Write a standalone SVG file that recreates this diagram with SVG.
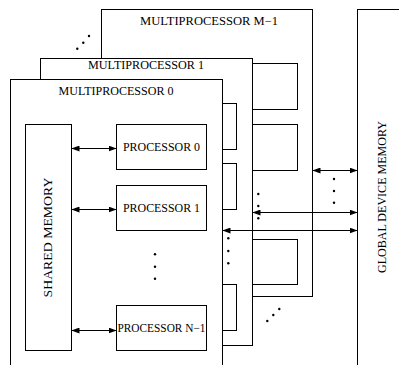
<svg xmlns="http://www.w3.org/2000/svg" width="399" height="365" viewBox="0 0 399 365">
<style>
.b{fill:#fff;stroke:#000;stroke-width:1}
.l{fill:none;stroke:#000;stroke-width:1}
.t{font-family:"Liberation Serif","Times New Roman",serif;font-size:12px;fill:#000}
.d{fill:#000}
</style>
<defs>
<marker id="ah" viewBox="0 0 8 6" refX="8" refY="3" markerWidth="8" markerHeight="6" markerUnits="userSpaceOnUse" orient="auto-start-reverse">
<path d="M0,0 L8,3 L0,6 z" fill="#000"/>
</marker>
</defs>
<g id="global-memory">
<rect class="b" x="357.5" y="9.5" width="60" height="400"/>
<text class="t" text-anchor="middle" transform="translate(386,197) rotate(-90)" textLength="152" lengthAdjust="spacingAndGlyphs">GLOBAL DEVICE MEMORY</text>
</g>
<g id="mp-m1">
<rect class="b" x="101.5" y="9.5" width="211" height="287"/>
<text class="t" x="209" y="25" text-anchor="middle" textLength="138" lengthAdjust="spacingAndGlyphs">MULTIPROCESSOR M−1</text>
<rect class="b" x="210.5" y="63.5" width="87" height="46"/>
<rect class="b" x="210.5" y="124.5" width="87" height="46"/>
<rect class="b" x="210.5" y="239.5" width="87" height="45"/>
</g>
<g id="mp-1">
<rect class="b" x="40.5" y="58.5" width="212" height="287"/>
<text class="t" x="146" y="69" text-anchor="middle" textLength="116" lengthAdjust="spacingAndGlyphs">MULTIPROCESSOR 1</text>
<rect class="b" x="146.5" y="103.5" width="90" height="46"/>
<rect class="b" x="146.5" y="163.5" width="90" height="46"/>
<rect class="b" x="146.5" y="284.5" width="90" height="46"/>
</g>
<g id="mp-0">
<rect class="b" x="10.5" y="79.5" width="212" height="300"/>
<text class="t" x="116" y="94.5" text-anchor="middle" textLength="115" lengthAdjust="spacingAndGlyphs">MULTIPROCESSOR 0</text>
</g>
<g id="shared-memory">
<rect class="b" x="25.5" y="124.5" width="46" height="226"/>
<text class="t" text-anchor="middle" transform="translate(52,237.5) rotate(-90)" style="font-size:13.5px" textLength="120" lengthAdjust="spacingAndGlyphs">SHARED MEMORY</text>
</g>
<g id="processor-0">
<rect class="b" x="116.5" y="124.5" width="90" height="45"/>
<text class="t" x="161.5" y="151" text-anchor="middle" textLength="77" lengthAdjust="spacingAndGlyphs">PROCESSOR 0</text>
</g>
<g id="processor-1">
<rect class="b" x="116.5" y="185.5" width="90" height="45"/>
<text class="t" x="161.5" y="212" text-anchor="middle" textLength="77" lengthAdjust="spacingAndGlyphs">PROCESSOR 1</text>
</g>
<g id="processor-n1">
<rect class="b" x="116.5" y="305.5" width="90" height="45"/>
<text class="t" x="161.5" y="332" text-anchor="middle" textLength="88" lengthAdjust="spacingAndGlyphs">PROCESSOR N−1</text>
</g>
<g id="connectors">
<line class="l" x1="71.5" y1="148.5" x2="116.5" y2="148.5" marker-start="url(#ah)" marker-end="url(#ah)"/>
<line class="l" x1="71.5" y1="209.5" x2="116.5" y2="209.5" marker-start="url(#ah)" marker-end="url(#ah)"/>
<line class="l" x1="71.5" y1="330.5" x2="116.5" y2="330.5" marker-start="url(#ah)" marker-end="url(#ah)"/>
<line class="l" x1="312.5" y1="170.5" x2="357.5" y2="170.5" marker-start="url(#ah)" marker-end="url(#ah)"/>
<line class="l" x1="252.5" y1="212.5" x2="357.5" y2="212.5" marker-start="url(#ah)" marker-end="url(#ah)"/>
<line class="l" x1="222.5" y1="230.5" x2="357.5" y2="230.5" marker-start="url(#ah)" marker-end="url(#ah)"/>
</g>
<g id="dots">
<circle class="d" cx="77.3" cy="48.7" r="1.2"/>
<circle class="d" cx="83.3" cy="42.7" r="1.2"/>
<circle class="d" cx="89" cy="36" r="1.2"/>
<circle class="d" cx="267.3" cy="321" r="1.2"/>
<circle class="d" cx="273.3" cy="315" r="1.2"/>
<circle class="d" cx="279.3" cy="309" r="1.2"/>
<circle class="d" cx="334" cy="179" r="1.2"/>
<circle class="d" cx="334" cy="191" r="1.2"/>
<circle class="d" cx="334" cy="202.7" r="1.2"/>
<circle class="d" cx="258.3" cy="194" r="1.2"/>
<circle class="d" cx="258.3" cy="206" r="1.2"/>
<circle class="d" cx="258.3" cy="218.3" r="1.2"/>
<circle class="d" cx="228.3" cy="238.3" r="1.2"/>
<circle class="d" cx="228.3" cy="251" r="1.2"/>
<circle class="d" cx="228.3" cy="263.3" r="1.2"/>
<circle class="d" cx="155" cy="254.3" r="1.2"/>
<circle class="d" cx="155" cy="266.7" r="1.2"/>
<circle class="d" cx="155" cy="278.7" r="1.2"/>
</g>
</svg>
